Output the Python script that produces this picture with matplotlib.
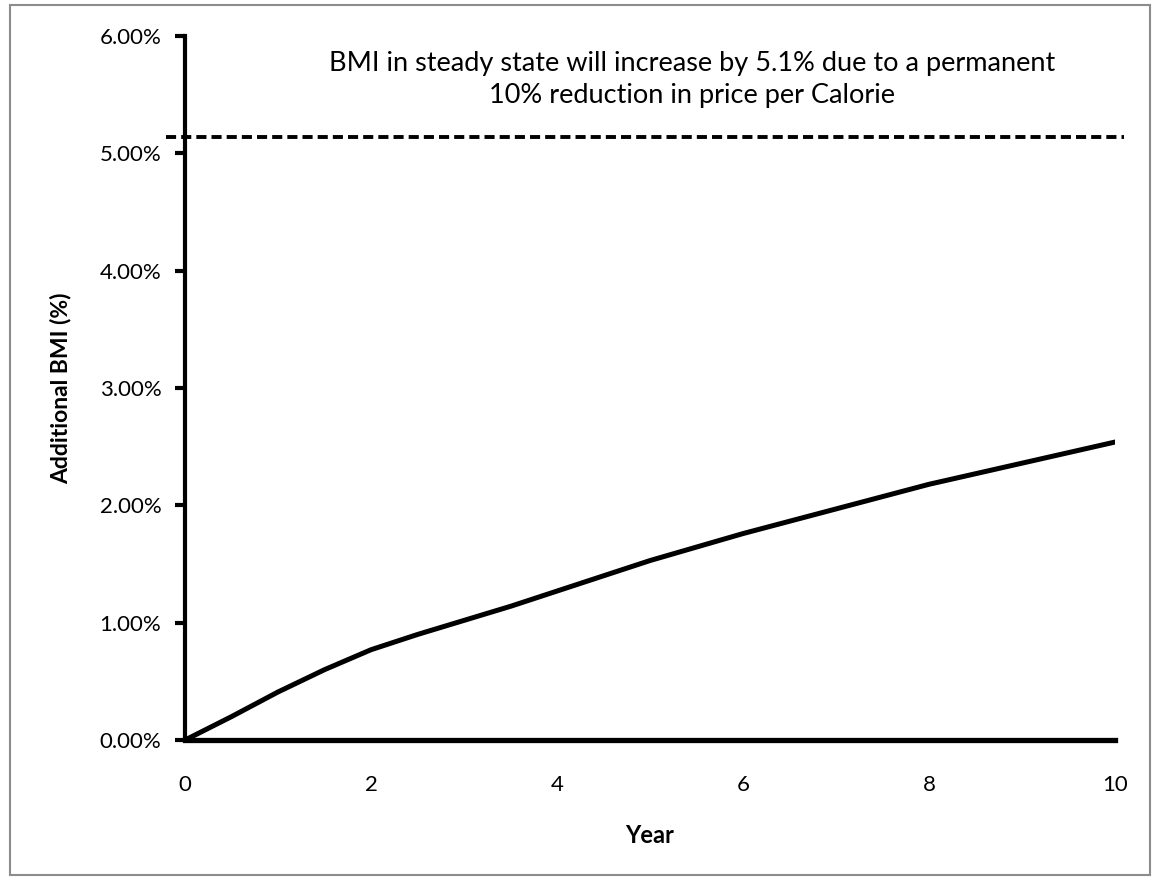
import numpy as np
import matplotlib.pyplot as plt
from matplotlib.patches import Rectangle
from matplotlib.ticker import FuncFormatter

# values
years = [0, 0.5, 1, 1.5, 2, 2.5, 3, 3.5, 4, 4.5, 5, 6, 7, 8, 9, 10]
extra_bmi = [0.0, 0.20, 0.41, 0.60, 0.77, 0.90, 1.02, 1.14, 1.27, 1.40,
             1.53, 1.76, 1.97, 2.18, 2.36, 2.54]
steady_state = 5.14
dash_x = [-0.2, 10.1]
yticks = [0, 1, 2, 3, 4, 5, 6]
xticks = [0, 2, 4, 6, 8, 10]
note = ("BMI in steady state will increase by 5.1% due to a permanent\n"
        "10% reduction in price per Calorie")

plt.rcParams['font.family'] = ['Lato', 'DejaVu Sans']

fig = plt.figure(figsize=(11.6, 8.8), dpi=100)
ax = fig.add_axes([0.1595, 0.159, 0.8017, 0.8])

# grey frame round the whole chart
fig.patches.append(Rectangle((10 / 1160, 5 / 880), 1140 / 1160, 870 / 880,
                             transform=fig.transFigure, fill=False,
                             edgecolor='#8c8c8c', linewidth=1.5))

ax.plot(years, extra_bmi, color='black', linewidth=3.6,
        solid_capstyle='round', solid_joinstyle='round')
ax.plot(dash_x, [steady_state, steady_state], color='black', linewidth=2.8,
        linestyle=(0, (2.6, 1.3)), clip_on=False)

ax.text(5.45, 5.63, note, ha='center', va='center', fontsize=19.5,
        linespacing=1.35, multialignment='center')

ax.set_xlim(0, 10)
ax.set_ylim(0, 6)
ax.set_xticks(xticks)
ax.set_yticks(yticks)
ax.yaxis.set_major_formatter(FuncFormatter(lambda v, p: '%.2f%%' % v))

for s in ['top', 'right']:
    ax.spines[s].set_visible(False)
ax.spines['left'].set_linewidth(3)
ax.spines['bottom'].set_linewidth(3.8)

ax.tick_params(axis='y', length=7, width=3, pad=10, labelsize=16)
ax.tick_params(axis='x', length=0, pad=25, labelsize=16)

ax.set_xlabel('Year', fontsize=17, fontweight='bold', labelpad=21)
ax.set_ylabel('Additional BMI (%)', fontsize=16.5, fontweight='bold', labelpad=20)

fig.savefig('out.png', dpi=100)
